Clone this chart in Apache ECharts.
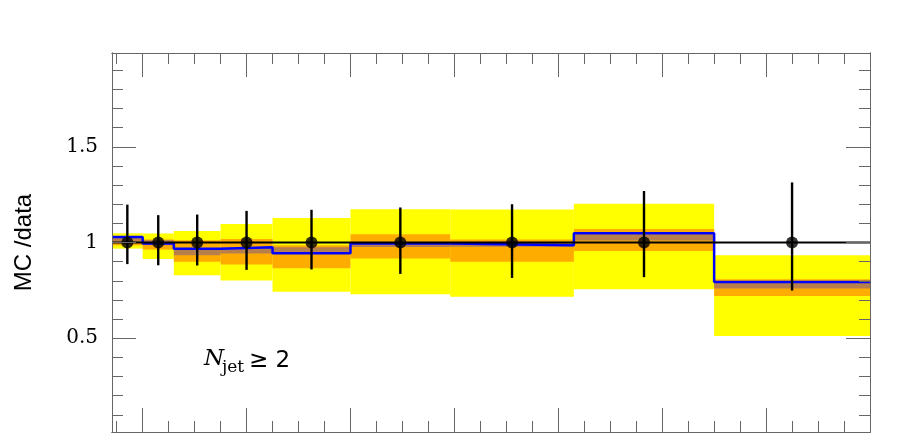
<!DOCTYPE html>
<html>
<head>
<meta charset="utf-8">
<script src="https://cdn.jsdelivr.net/npm/echarts@6/dist/echarts.min.js"></script>
<style>
  html, body { margin: 0; padding: 0; background: #fff; }
  #chart { width: 899px; height: 436px; }
</style>
</head>
<body>
<div id="chart"></div>
<script>
// bin edges (x axis, no labels visible in the picture)
var binEdges = [35.25, 50, 65, 87.5, 112.5, 150, 198, 257.5, 325, 400];

// uncertainty bands per bin
var yellowLo = [0.968, 0.914, 0.829, 0.802, 0.743, 0.730, 0.716, 0.756, 0.512];
var yellowHi = [1.048, 1.047, 1.060, 1.096, 1.128, 1.174, 1.173, 1.202, 0.934];
var orangeLo = [0.985, 0.963, 0.899, 0.885, 0.866, 0.916, 0.899, 0.956, 0.721];
var orangeHi = [1.033, 1.016, 1.012, 1.018, 0.985, 1.043, 1.016, 1.071, 0.808];
var brownLo = [1.003, 0.986, 0.934, 0.942, 0.940, 0.977, 0.978, 1.010, 0.760];
var brownHi = [1.025, 1.012, 0.966, 0.974, 0.975, 1.000, 0.998, 1.043, 0.791];

// MC/data central value (blue histogram)
var mcRatio = [1.029, 0.995, 0.967, 0.975, 0.944, 0.995, 0.985, 1.048, 0.794];

// data points with error bars
var dataRatio = [1, 1, 1, 1, 1, 1, 1, 1, 1];
var dataErrHi = [1.198, 1.143, 1.146, 1.165, 1.171, 1.183, 1.200, 1.269, 1.314];
var dataErrLo = [0.887, 0.881, 0.880, 0.857, 0.859, 0.836, 0.815, 0.819, 0.749];

// ticks
var xMajor = [50, 100, 150, 200, 250, 300, 350];
var xMinor = [37.5, 62.5, 75, 87.5, 112.5, 125, 137.5, 162.5, 175, 187.5, 212.5, 225, 237.5,
  262.5, 275, 287.5, 312.5, 325, 337.5, 362.5, 375, 387.5];
var yMajor = [0.5, 1, 1.5];
var yMinor = [0.1, 0.2, 0.3, 0.4, 0.6, 0.7, 0.8, 0.9, 1.1, 1.2, 1.3, 1.4, 1.6, 1.7, 1.8, 1.9];
var yLabels = ["0.5", "1", "1.5"];

var xMin = binEdges[0], xMax = binEdges[binEdges.length - 1];
var yMin = 0.01, yMax = 1.99;
var axisColor = "#666";

function bandData(lo, hi) {
  return lo.map(function (v, i) {
    return [binEdges[i], binEdges[i + 1], v, hi[i]];
  });
}

function bandSeries(lo, hi, color, z) {
  return {
    type: "custom",
    z: z,
    silent: true,
    encode: { x: [0, 1], y: [2, 3] },
    data: bandData(lo, hi),
    renderItem: function (params, api) {
      var p0 = api.coord([api.value(0), api.value(3)]);
      var p1 = api.coord([api.value(1), api.value(2)]);
      return {
        type: "rect",
        shape: { x: p0[0], y: p0[1], width: p1[0] - p0[0], height: p1[1] - p0[1] },
        style: { fill: color }
      };
    }
  };
}

function xAxisDef(pos, ticks, len) {
  return {
    type: "value", position: pos, min: xMin, max: xMax, z: 10,
    axisLine: { show: true, onZero: false, lineStyle: { color: axisColor, width: 1 } },
    axisTick: { show: true, inside: true, length: len, customValues: ticks,
      lineStyle: { color: axisColor, width: 1 } },
    axisLabel: { show: false },
    splitLine: { show: false }
  };
}

function yAxisDef(pos, ticks, len, labels) {
  var ax = {
    type: "value", position: pos, min: yMin, max: yMax, z: 10,
    axisLine: { show: true, onZero: false, lineStyle: { color: axisColor, width: 1 } },
    axisTick: { show: true, inside: true, length: len, customValues: ticks,
      lineStyle: { color: axisColor, width: 1 } },
    axisLabel: { show: false },
    splitLine: { show: false }
  };
  if (labels) {
    ax.axisLabel = {
      show: true, customValues: yMajor, margin: 14,
      fontFamily: "DejaVu Serif", fontSize: 20, color: "#000",
      formatter: function (v) { return yLabels[yMajor.indexOf(v)]; }
    };
    ax.name = "MC /data";
    ax.nameLocation = "middle";
    ax.nameRotate = 90;
    ax.nameGap = 76;
    ax.nameTextStyle = { fontFamily: "Liberation Sans", fontSize: 24, color: "#000" };
  }
  return ax;
}

var chart = echarts.init(document.getElementById("chart"));
chart.setOption({
  animation: false,
  backgroundColor: "#fff",
  grid: { left: 112, right: 29, top: 53, bottom: 4 },
  xAxis: [
    xAxisDef("bottom", xMajor, 24),
    xAxisDef("bottom", xMinor, 11),
    xAxisDef("top", xMajor, 24),
    xAxisDef("top", xMinor, 11)
  ],
  yAxis: [
    yAxisDef("left", yMajor, 24, true),
    yAxisDef("left", yMinor, 11),
    yAxisDef("right", yMajor, 24),
    yAxisDef("right", yMinor, 11)
  ],
  graphic: [
    { type: "text", left: 204, top: 348, z: 20,
      style: { text: "N", font: "italic 23px 'DejaVu Serif'", fill: "#000" } },
    { type: "text", left: 222, top: 359, z: 20,
      style: { text: "jet", font: "17px 'DejaVu Serif'", fill: "#000" } },
    { type: "text", left: 249, top: 350, z: 20,
      style: { text: "\u2265 2", font: "23px 'DejaVu Sans'", fill: "#000" } }
  ],
  series: [
    bandSeries(yellowLo, yellowHi, "#ffff00", 1),
    bandSeries(orangeLo, orangeHi, "#ffac00", 2),
    bandSeries(brownLo, brownHi, "#b67f4c", 3),
    {
      type: "line", z: 4, step: "end", symbol: "none", silent: true,
      lineStyle: { color: "#0000ff", width: 2.5 },
      data: binEdges.map(function (e, i) {
        return [e, mcRatio[Math.min(i, mcRatio.length - 1)]];
      })
    },
    {
      type: "line", z: 5, symbol: "none", silent: true,
      lineStyle: { color: "#000", width: 2.2 },
      data: [[xMin, 1], [xMax, 1]]
    },
    {
      type: "custom", z: 6, silent: true,
      encode: { x: 0, y: [1, 2] },
      data: dataRatio.map(function (v, i) {
        return [(binEdges[i] + binEdges[i + 1]) / 2, dataErrLo[i], dataErrHi[i]];
      }),
      renderItem: function (params, api) {
        var a = api.coord([api.value(0), api.value(1)]);
        var b = api.coord([api.value(0), api.value(2)]);
        return {
          type: "line",
          shape: { x1: a[0], y1: a[1], x2: b[0], y2: b[1] },
          style: { stroke: "#000", lineWidth: 2.4 }
        };
      }
    },
    {
      type: "scatter", z: 7, silent: true,
      symbol: "circle", symbolSize: 12,
      itemStyle: { color: "#000" },
      data: dataRatio.map(function (v, i) {
        return [(binEdges[i] + binEdges[i + 1]) / 2, v];
      })
    }
  ]
});
</script>
</body>
</html>
